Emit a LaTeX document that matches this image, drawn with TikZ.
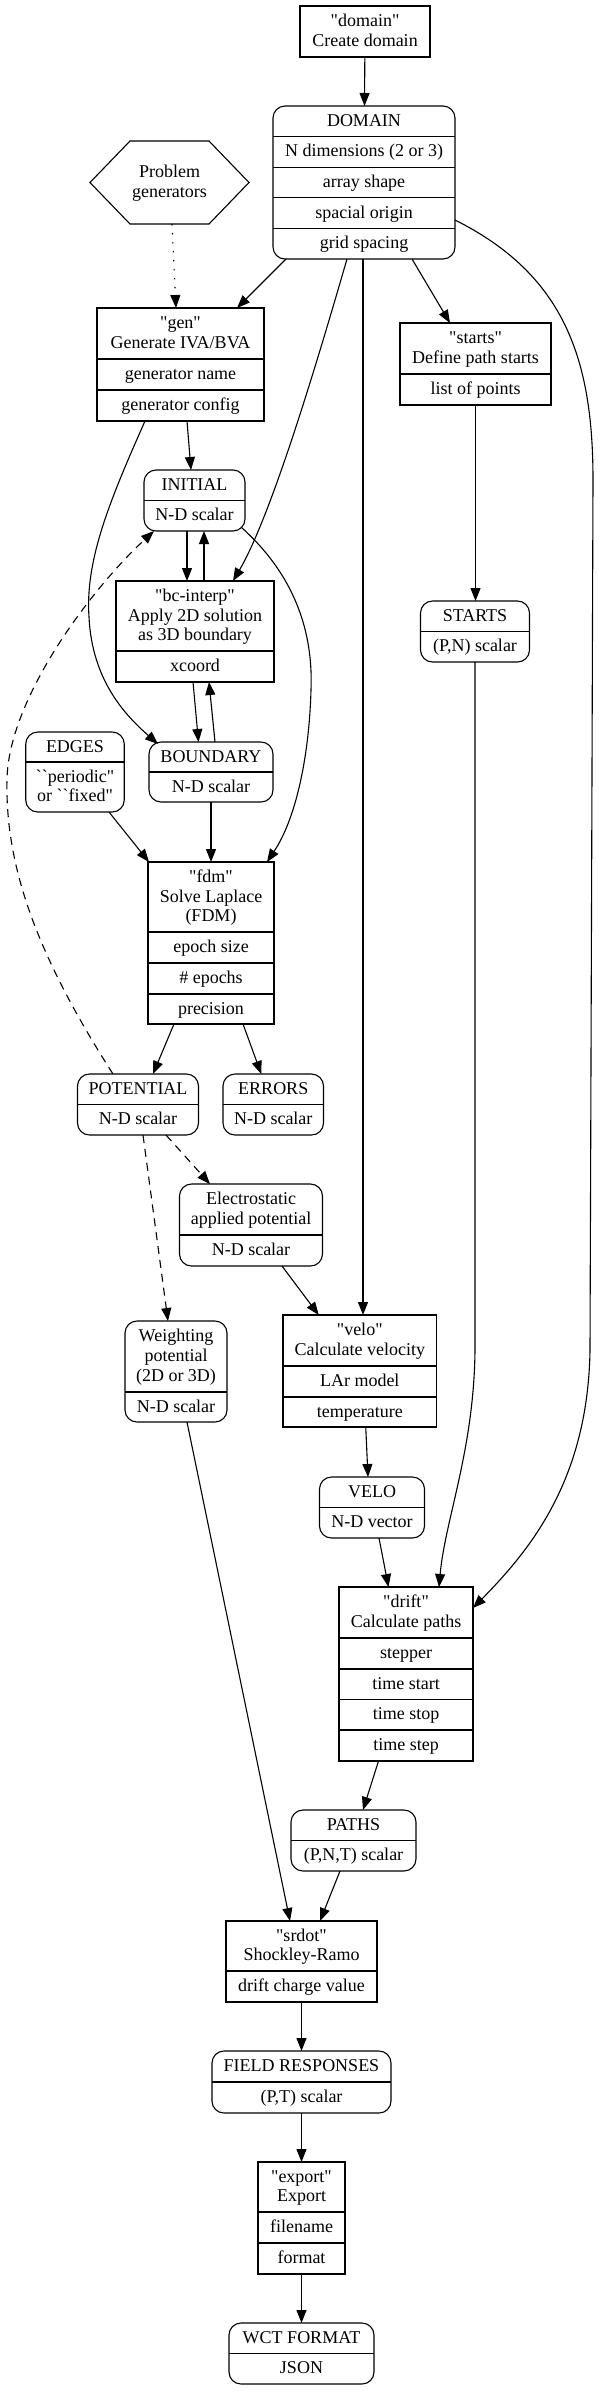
\documentclass[tikz,border=0pt]{standalone}
\usepackage{fontspec}
\setmainfont{Liberation Serif}[Ligatures=TeXOff]
\usetikzlibrary{arrows.meta}
\newcommand\tx[4]{\node[lbl] (#1) at (#2,#3) {#4};}
\begin{document}
\begin{tikzpicture}[x=1pt,y=-1pt,
  sbox/.style={draw, line width=1.1pt, inner sep=0pt, outer sep=0pt},
  rbox/.style={sbox, rounded corners=12pt},
  lbl/.style={inner sep=0pt, anchor=base, font=\fontsize{18}{20}\selectfont},
  divl/.style={line width=1.1pt},
  conn/.style={line width=1.1pt, -{Triangle[length=13pt,width=10pt]}},
  dashconn/.style={conn, dash pattern=on 8pt off 6pt},
  dotconn/.style={conn, dash pattern=on 1.5pt off 7.5pt},
  ghost/.style={inner sep=0pt, outer sep=0pt}
]
\fill[white] (0,0) rectangle (599,2391);
\useasboundingbox (0,0) rectangle (599,2391);

% ---- domain
\node[sbox,minimum width=130pt,minimum height=51pt] (domain) at (365,31.5) {};
\tx{domainA}{365}{26.7}{"domain"}
\tx{domainB}{365}{46.3}{Create domain}

% ---- DOMAIN
\node[rbox,minimum width=182pt,minimum height=153pt] (DOMAIN) at (364,182.5) {};
\draw[divl] (273,136.6) -- (455,136.6);
\draw[divl] (273,167.2) -- (455,167.2);
\draw[divl] (273,197.8) -- (455,197.8);
\draw[divl] (273,228.4) -- (455,228.4);
\tx{DOMAIN0}{364}{126.3}{DOMAIN}
\tx{DOMAIN1}{364}{156.9}{N dimensions (2 or 3)}
\tx{DOMAIN2}{364}{187.5}{array shape}
\tx{DOMAIN3}{364}{218.1}{spacial origin}
\tx{DOMAIN4}{364}{248.7}{grid spacing}

% ---- Problem generators
\node[ghost,minimum width=159pt,minimum height=83pt] (prob) at (169.5,182.5) {};
\draw[divl] (prob.west) -- ([xshift=40pt]prob.north west) -- ([xshift=-40pt]prob.north east)
  -- (prob.east) -- ([xshift=-40pt]prob.south east) -- ([xshift=40pt]prob.south west) -- cycle;
\tx{probA}{169.5}{177.7}{Problem}
\tx{probB}{169.5}{197.3}{generators}

% ---- gen
\node[sbox,minimum width=167pt,minimum height=113pt] (gen) at (180.5,364.5) {};
\draw[divl] (97,359) -- (264,359);
\draw[divl] (97,390) -- (264,390);
\tx{genA}{180.5}{328.7}{"gen"}
\tx{genB}{180.5}{348.3}{Generate IVA/BVA}
\tx{gen1}{180.5}{379.5}{generator name}
\tx{gen2}{180.5}{410.5}{generator config}

% ---- starts
\node[sbox,minimum width=151pt,minimum height=82pt] (starts) at (475.5,364) {};
\draw[divl] (400,374) -- (551,374);
\tx{startsA}{475.5}{343.7}{"starts"}
\tx{startsB}{475.5}{363.3}{Define path starts}
\tx{starts1}{475.5}{394.5}{list of points}

% ---- INITIAL
\node[rbox,minimum width=101pt,minimum height=61pt] (INITIAL) at (194.5,500.5) {};
\draw[divl] (144,500.5) -- (245,500.5);
\tx{INITIAL0}{194.5}{490.25}{INITIAL}
\tx{INITIAL1}{194.5}{520.75}{N-D scalar}

% ---- bc-interp
\node[sbox,minimum width=158pt,minimum height=101pt] (bcinterp) at (195,631.5) {};
\draw[divl] (116,651) -- (274,651);
\tx{bcA}{195}{601.4}{"bc-interp"}
\tx{bcB}{195}{621}{Apply 2D solution}
\tx{bcC}{195}{640.6}{as 3D boundary}
\tx{bc1}{195}{671.5}{xcoord}

% ---- BOUNDARY
\node[rbox,minimum width=124pt,minimum height=60pt] (BOUNDARY) at (211,772) {};
\draw[divl] (149,772) -- (273,772);
\tx{BOUNDARY0}{211}{762}{BOUNDARY}
\tx{BOUNDARY1}{211}{792}{N-D scalar}

% ---- EDGES
\node[rbox,minimum width=98.5pt,minimum height=80pt] (EDGES) at (75,772) {};
\draw[divl] (25.75,762) -- (124.25,762);
\tx{EDGES0}{75}{752}{EDGES}
\tx{EDGESA}{75}{782.2}{``periodic"}
\tx{EDGESB}{75}{801.8}{or ``fixed"}

% ---- STARTS
\node[rbox,minimum width=109pt,minimum height=61pt] (STARTS) at (475,631.5) {};
\draw[divl] (420.5,631.5) -- (529.5,631.5);
\tx{STARTS0}{475}{621.25}{STARTS}
\tx{STARTS1}{475}{651.75}{(P,N) scalar}

% ---- fdm
\node[sbox,minimum width=126pt,minimum height=162pt] (fdm) at (211,943) {};
\draw[divl] (148,932) -- (274,932);
\draw[divl] (148,963) -- (274,963);
\draw[divl] (148,994) -- (274,994);
\tx{fdmA}{211}{882.4}{"fdm"}
\tx{fdmB}{211}{902}{Solve Laplace}
\tx{fdmC}{211}{921.6}{(FDM)}
\tx{fdm1}{211}{952.5}{epoch size}
\tx{fdm2}{211}{983.5}{\# epochs}
\tx{fdm3}{211}{1014}{precision}

% ---- POTENTIAL
\node[rbox,minimum width=121pt,minimum height=61pt] (POTENTIAL) at (138,1104.5) {};
\draw[divl] (77.5,1104.5) -- (198.5,1104.5);
\tx{POTENTIAL0}{138}{1094.25}{POTENTIAL}
\tx{POTENTIAL1}{138}{1124.75}{N-D scalar}

% ---- ERRORS
\node[rbox,minimum width=100.5pt,minimum height=61pt] (ERRORS) at (273.25,1104.5) {};
\draw[divl] (223,1104.5) -- (323.5,1104.5);
\tx{ERRORS0}{273.25}{1094.25}{ERRORS}
\tx{ERRORS1}{273.25}{1124.75}{N-D scalar}

% ---- Electrostatic
\node[rbox,minimum width=143pt,minimum height=82pt] (elec) at (251,1225) {};
\draw[divl] (179.5,1235) -- (322.5,1235);
\tx{elecA}{251}{1204.7}{Electrostatic}
\tx{elecB}{251}{1224.3}{applied potential}
\tx{elec1}{251}{1255.5}{N-D scalar}

% ---- Weighting
\node[rbox,minimum width=102pt,minimum height=101pt] (weight) at (176,1371.5) {};
\draw[divl] (125,1392) -- (227,1392);
\tx{weightA}{176}{1341.9}{Weighting}
\tx{weightB}{176}{1361.5}{potential}
\tx{weightC}{176}{1381.1}{(2D or 3D)}
\tx{weight1}{176}{1412}{N-D scalar}

% ---- velo
\node[sbox,minimum width=153.5pt,minimum height=112pt] (velo) at (359.75,1371) {};
\draw[divl] (283,1366) -- (436.5,1366);
\draw[divl] (283,1397) -- (436.5,1397);
\tx{veloA}{359.75}{1335.7}{"velo"}
\tx{veloB}{359.75}{1355.3}{Calculate velocity}
\tx{velo1}{359.75}{1386.5}{LAr model}
\tx{velo2}{359.75}{1417}{temperature}

% ---- VELO
\node[rbox,minimum width=105pt,minimum height=61pt] (VELO) at (372,1507.5) {};
\draw[divl] (319.5,1507.5) -- (424.5,1507.5);
\tx{VELO0}{372}{1497.25}{VELO}
\tx{VELO1}{372}{1527.75}{N-D vector}

% ---- drift
\node[sbox,minimum width=134pt,minimum height=174pt] (drift) at (406,1674) {};
\draw[divl] (339,1638) -- (473,1638);
\draw[divl] (339,1669) -- (473,1669);
\draw[divl] (339,1699.5) -- (473,1699.5);
\draw[divl] (339,1730) -- (473,1730);
\tx{driftA}{406}{1607.7}{"drift"}
\tx{driftB}{406}{1627.3}{Calculate paths}
\tx{drift1}{406}{1658.5}{stepper}
\tx{drift2}{406}{1689.2}{time start}
\tx{drift3}{406}{1719.7}{time stop}
\tx{drift4}{406}{1750.5}{time step}

% ---- PATHS
\node[rbox,minimum width=125pt,minimum height=61pt] (PATHS) at (353.5,1840.5) {};
\draw[divl] (291,1840.5) -- (416,1840.5);
\tx{PATHS0}{353.5}{1830.25}{PATHS}
\tx{PATHS1}{353.5}{1860.75}{(P,N,T) scalar}

% ---- srdot
\node[sbox,minimum width=151pt,minimum height=81pt] (srdot) at (301.5,1961.5) {};
\draw[divl] (226,1971) -- (377,1971);
\tx{srdotA}{301.5}{1941.2}{"srdot"}
\tx{srdotB}{301.5}{1960.8}{Shockley-Ramo}
\tx{srdot1}{301.5}{1991.5}{drift charge value}

% ---- FIELD RESPONSES
\node[rbox,minimum width=179pt,minimum height=62pt] (FIELD) at (301.5,2082) {};
\draw[divl] (212,2082) -- (391,2082);
\tx{FIELD0}{301.5}{2071.5}{FIELD RESPONSES}
\tx{FIELD1}{301.5}{2102.5}{(P,T) scalar}

% ---- export
\node[sbox,minimum width=87pt,minimum height=112pt] (export) at (301.5,2218) {};
\draw[divl] (258,2212) -- (345,2212);
\draw[divl] (258,2243) -- (345,2243);
\tx{exportA}{301.5}{2182.2}{"export"}
\tx{exportB}{301.5}{2201.8}{Export}
\tx{export1}{301.5}{2232.5}{filename}
\tx{export2}{301.5}{2263.5}{format}

% ---- WCT FORMAT
\node[rbox,minimum width=145pt,minimum height=61pt] (WCT) at (301.5,2353.5) {};
\draw[divl] (229,2353.5) -- (374,2353.5);
\tx{WCT0}{301.5}{2343.25}{WCT FORMAT}
\tx{WCT1}{301.5}{2373.75}{JSON}

% ================= connectors
\draw[conn] (domain) -- (DOMAIN);
\draw[conn] ([xshift=-78pt]DOMAIN.south) -- ([xshift=56.5pt]gen.north);
\draw[conn] ([xshift=48pt]DOMAIN.south) -- ([xshift=-25.5pt]starts.north);
\draw[conn] ([xshift=-17pt]DOMAIN.south) .. controls (322,345) and (273,513) .. ([xshift=38pt]bcinterp.north);
\draw[conn] ([xshift=-1pt]DOMAIN.south) -- ([xshift=-1pt]DOMAIN.south |- velo.north);
\draw[conn] ([yshift=-37.5pt]DOMAIN.east) .. controls (565,275) and (593,360) .. (593,480)
   -- (590,1350) .. controls (588,1480) and (530,1550) .. ([yshift=66pt]drift.east);
\draw[dotconn] ([xshift=2.5pt]prob.south) -- ([xshift=-4.5pt]gen.north);
\draw[conn] (starts.south) -- (starts.south |- STARTS.north);
\draw[conn] ([xshift=6.5pt]gen.south) -- ([xshift=-3.5pt]INITIAL.north);
\draw[conn] ([xshift=-35.5pt]gen.south) .. controls (110,500) and (85,560) .. (89,617)
   .. controls (92,680) and (125,715) .. ([xshift=9pt,yshift=-2pt]BOUNDARY.north west);
\draw[conn] ([xshift=-7.5pt]INITIAL.south) -- ([xshift=-7.5pt]INITIAL.south |- bcinterp.north);
\draw[conn] ([xshift=9pt]bcinterp.north) -- ([xshift=9pt]bcinterp.north |- INITIAL.south);
\draw[conn] ([xshift=-2pt]bcinterp.south) -- ([xshift=-12.5pt]BOUNDARY.north);
\draw[conn] ([xshift=4pt]BOUNDARY.north) -- ([xshift=14pt]bcinterp.south);
\draw[conn] ([xshift=-3.5pt,yshift=3.5pt]INITIAL.south east) .. controls (300,580) and (313,640) .. (311,690)
   .. controls (309,760) and (295,820) .. ([xshift=-7pt]fdm.north east);
\draw[dashconn] ([xshift=-25pt]POTENTIAL.north) .. controls (40,960) and (5,870) .. (7,780)
   .. controls (8,700) and (90,590) .. ([xshift=10pt]INITIAL.south west);
\draw[conn] ([xshift=34pt]EDGES.south) -- ([xshift=1pt]fdm.north west);
\draw[conn] (BOUNDARY.south) -- (fdm.north);
\draw[conn] ([xshift=-37pt]fdm.south) -- ([xshift=15pt]POTENTIAL.north);
\draw[conn] ([xshift=32pt]fdm.south) -- ([xshift=-12pt]ERRORS.north);
\draw[dashconn] ([xshift=28pt]POTENTIAL.south) -- ([xshift=-41pt]elec.north);
\draw[dashconn] ([xshift=5pt]POTENTIAL.south) -- ([xshift=-8pt]weight.north);
\draw[conn] ([xshift=31pt]elec.south) -- ([xshift=-41pt]velo.north);
\draw[conn] ([xshift=6pt]velo.south) -- ([xshift=-4pt]VELO.north);
\draw[conn] ([xshift=7pt]VELO.south) -- ([xshift=-17.5pt]drift.north);
\draw[conn] (STARTS.south) -- (475,1350) .. controls (474,1450) and (445,1520) .. ([xshift=33pt]drift.north);
\draw[conn] ([xshift=11pt]weight.south) -- ([xshift=-11.5pt]srdot.north);
\draw[conn] ([xshift=-27.5pt]drift.south) -- ([xshift=9.5pt]PATHS.north);
\draw[conn] ([xshift=-13.5pt]PATHS.south) -- ([xshift=18.5pt]srdot.north);
\draw[conn] (srdot) -- (FIELD);
\draw[conn] (FIELD) -- (export);
\draw[conn] (export) -- (WCT);
\end{tikzpicture}
\end{document}
